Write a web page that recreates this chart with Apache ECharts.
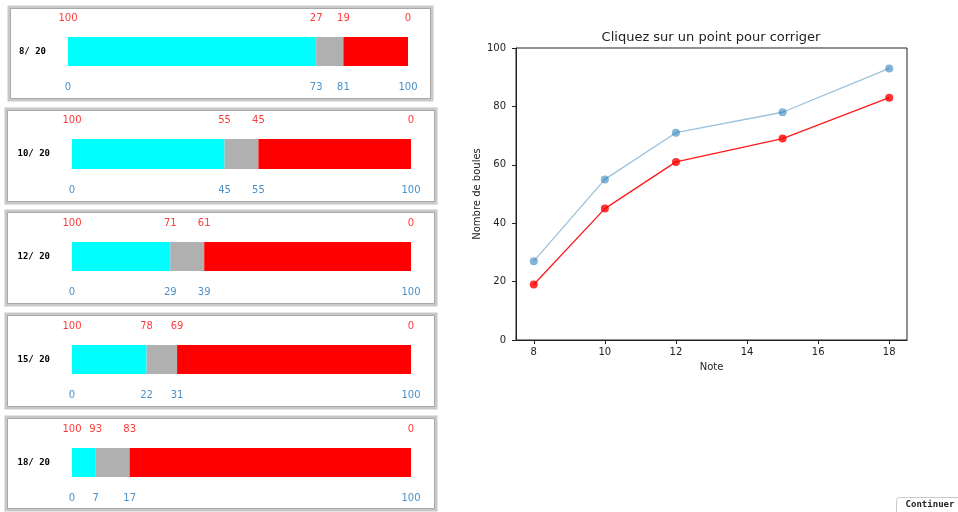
<!DOCTYPE html>
<html><head><meta charset="utf-8">
<script src="https://cdn.jsdelivr.net/npm/echarts@6/dist/echarts.min.js"></script>
<style>html,body{margin:0;padding:0;background:#fff}#c{width:958px;height:512px}</style>
</head><body><div id="c"></div>
<script>
// Left panels data
const panelLabels = ['8/ 20', '10/ 20', '12/ 20', '15/ 20', '18/ 20'];
const cyanVals = [73, 45, 29, 22, 7];
const grayVals = [8, 10, 10, 9, 10];
const redVals  = [19, 45, 61, 69, 83];
// Right chart data
const notes = [8, 10, 12, 15, 18];
const blueSeries = [27, 55, 71, 78, 93];
const redSeries  = [19, 45, 61, 69, 83];
const xTicks = [8, 10, 12, 14, 16, 18];

// layout (positions only)
const boxes = [
  {x:8, y:6, w:425, h:95, bx:68, by:37, bw:340, bh:29},
  {x:5, y:108, w:432, h:96, bx:72, by:139, bw:339, bh:30},
  {x:5, y:210, w:432, h:96, bx:72, by:242, bw:339, bh:29},
  {x:5, y:313, w:432, h:96, bx:72, by:345, bw:339, bh:29},
  {x:5, y:416, w:432, h:95, bx:72, by:448, bw:339, bh:29}
];

const grids = [], xAxes = [], yAxes = [], series = [], graphics = [];
const sans = 'DejaVu Sans';
boxes.forEach((b, i) => {
  graphics.push({type:'rect', shape:{x:b.x+1, y:b.y+1, width:b.w-2, height:b.h-2},
    style:{fill:'#fff', stroke:'#c8c8c8', lineWidth:3}, z:-10});
  graphics.push({type:'rect', shape:{x:b.x+2.5, y:b.y+2.5, width:b.w-5, height:b.h-5},
    style:{fill:null, stroke:'#a8a8a8', lineWidth:1}, z:-9});
  grids.push({left:b.bx, top:b.by, width:b.bw, height:b.bh, outerBoundsMode:'none', containLabel:false});
  const cuts = [0, cyanVals[i], cyanVals[i] + grayVals[i], 100];
  xAxes.push({gridIndex:i, type:'value', min:0, max:100, position:'top',
    axisLine:{show:false}, axisTick:{show:false}, splitLine:{show:false},
    axisLabel:{customValues:cuts, formatter:v => String(100 - v), color:'#ff3a3a',
      fontFamily:sans, fontSize:10, margin:14, hideOverlap:false}});
  xAxes.push({gridIndex:i, type:'value', min:0, max:100, position:'bottom',
    axisLine:{show:false}, axisTick:{show:false}, splitLine:{show:false},
    axisLabel:{customValues:cuts, color:'#4b91c8', fontFamily:sans, fontSize:10, margin:16, hideOverlap:false}});
  yAxes.push({gridIndex:i, type:'category', data:[panelLabels[i]],
    axisLine:{show:false}, axisTick:{show:false},
    axisLabel:{color:'#000', fontFamily:'DejaVu Sans Mono', fontWeight:'bold', fontSize:9, margin:22}});
  const xi = i * 2;
  [[cyanVals, '#00ffff'], [grayVals, '#b0b0b0'], [redVals, '#ff0000']].forEach(([arr, col]) => {
    series.push({type:'bar', xAxisIndex:xi, yAxisIndex:i, stack:'s'+i, data:[arr[i]],
      barWidth:'100%', itemStyle:{color:col}, silent:true, animation:false});
  });
});

// right chart
const gi = boxes.length;
grids.push({left:516, top:48, width:391, height:292, show:true, borderColor:'#222', borderWidth:1,
  outerBoundsMode:'none', containLabel:false, backgroundColor:'transparent'});
xAxes.push({gridIndex:gi, type:'value', min:7.5, max:18.5,
  name:'Note', nameLocation:'middle', nameGap:22, nameTextStyle:{fontFamily:sans, fontSize:10, color:'#222'},
  axisLine:{show:true, onZero:false, lineStyle:{color:'#222'}},
  axisTick:{show:true, customValues:xTicks, length:4, lineStyle:{color:'#222'}},
  axisLabel:{customValues:xTicks, fontFamily:sans, fontSize:10, color:'#222', margin:7},
  splitLine:{show:false}});
yAxes.push({gridIndex:gi, type:'value', min:0, max:100, interval:20,
  name:'Nombre de boules', nameLocation:'middle', nameGap:34, nameRotate:90,
  nameTextStyle:{fontFamily:sans, fontSize:10, color:'#222'},
  axisLine:{show:true, lineStyle:{color:'#222'}},
  axisTick:{show:true, length:4, lineStyle:{color:'#222'}},
  axisLabel:{fontFamily:sans, fontSize:10, color:'#222', margin:10},
  splitLine:{show:false}});
const lx = xAxes.length - 1, ly = yAxes.length - 1;
series.push({type:'line', xAxisIndex:lx, yAxisIndex:ly, data:notes.map((n, k) => [n, blueSeries[k]]),
  symbol:'circle', symbolSize:8, lineStyle:{color:'rgba(31,119,180,0.45)', width:1.3},
  itemStyle:{color:'rgba(31,119,180,0.55)', borderWidth:0}, animation:false});
series.push({type:'line', xAxisIndex:lx, yAxisIndex:ly, data:notes.map((n, k) => [n, redSeries[k]]),
  symbol:'circle', symbolSize:8, lineStyle:{color:'rgba(255,0,0,0.9)', width:1.3},
  itemStyle:{color:'rgba(255,0,0,0.8)', borderWidth:0}, animation:false});

// Continuer button
graphics.push({type:'rect', shape:{x:896.5, y:497.5, width:66, height:18, r:3},
  style:{fill:'#fff', stroke:'#c8c8c8', lineWidth:1}});
graphics.push({type:'text', x:930, y:505, style:{text:'Continuer', fontFamily:'DejaVu Sans Mono',
  fontWeight:'bold', fontSize:9, fill:'#222', align:'center', verticalAlign:'middle'}});

const chart = echarts.init(document.getElementById('c'), null, {renderer:'canvas'});
chart.setOption({
  animation:false,
  title:{text:'Cliquez sur un point pour corriger', left:711, top:27, textAlign:'center',
    textStyle:{fontFamily:sans, fontSize:13, fontWeight:'normal', color:'#222'}},
  grid:grids, xAxis:xAxes, yAxis:yAxes, series:series, graphic:graphics
});
// nudge the title to the reference position
chart.setOption({title:{left:706, top:26}});
</script></body></html>
